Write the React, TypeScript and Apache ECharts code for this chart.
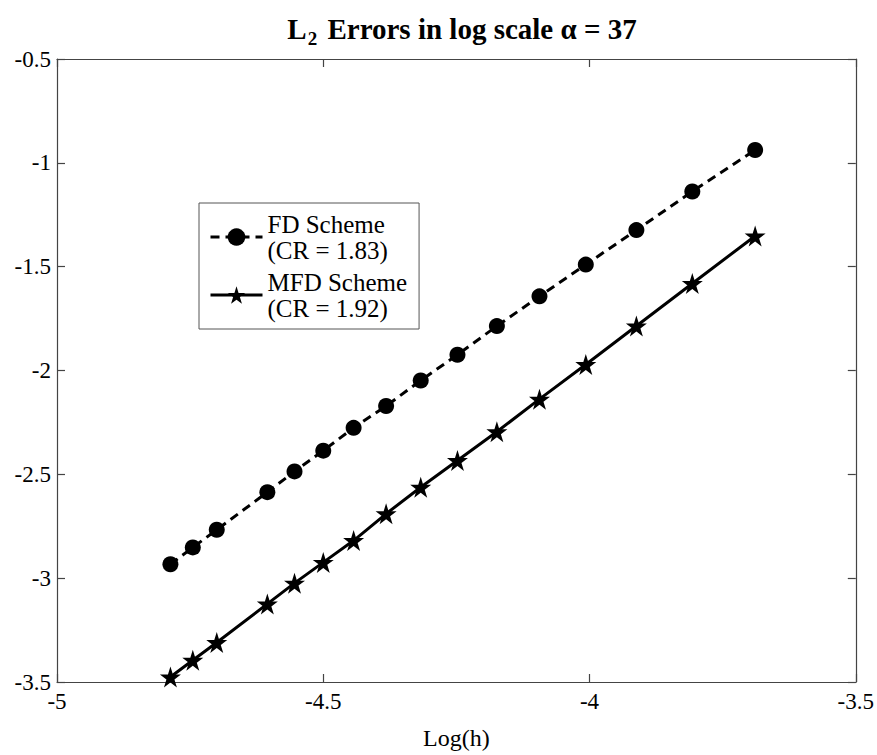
import React, { useEffect, useRef } from "react";
import * as echarts from "echarts";

// Log(h) values (x)
const logH = [-4.787, -4.745, -4.7, -4.605, -4.554, -4.5, -4.443, -4.382, -4.317, -4.248, -4.174, -4.094, -4.007, -3.912, -3.807, -3.689];
// FD Scheme L2 errors (log)
const fdErrors = [-2.933, -2.852, -2.767, -2.586, -2.486, -2.386, -2.276, -2.171, -2.048, -1.924, -1.786, -1.643, -1.49, -1.324, -1.138, -0.938];
// MFD Scheme L2 errors (log)
const mfdErrors = [-3.476, -3.395, -3.31, -3.124, -3.024, -2.924, -2.819, -2.69, -2.562, -2.433, -2.295, -2.138, -1.971, -1.786, -1.581, -1.352];

const seriesNames = ["FD Scheme\n(CR = 1.83)", "MFD Scheme\n(CR = 1.92)"];
const xRange = [-5, -3.5];
const yRange = [-3.5, -0.5];
const tickStep = 0.5;

const FONT = '"Liberation Serif", "Times New Roman", serif';
const STAR = "path://M50,0 L61.2,34.5 L97.6,34.5 L68.2,55.9 L79.4,90.5 L50,69.1 L20.6,90.5 L31.8,55.9 L2.4,34.5 L38.8,34.5 Z";

export default function App() {
  const ref = useRef<HTMLDivElement>(null);
  useEffect(() => {
    if (!ref.current) return;
    const chart = echarts.init(ref.current, null, { renderer: "svg" });
    const axisLine = { show: true, lineStyle: { color: "#444", width: 1.2 } };
    const axisTick = { show: true, inside: true, length: 8, lineStyle: { color: "#444", width: 1.2 } };
    const label = { color: "#000", fontFamily: FONT, fontSize: 23 };
    chart.setOption({
      animation: false,
      backgroundColor: "#fff",
      title: {
        text: "{a|L}{s|2}{a| Errors in log scale α = 37}",
        left: 457,
        top: 6,
        textAlign: "center",
        textStyle: {
          rich: {
            a: { fontFamily: FONT, fontWeight: "bold", fontSize: 29, color: "#000", lineHeight: 36 },
            s: { fontFamily: FONT, fontWeight: "bold", fontSize: 19, color: "#000", lineHeight: 36, padding: [18, 3, 0, 1] },
          },
        },
      },
      grid: { left: 57, right: 20, top: 59, bottom: 66, containLabel: false },
      legend: {
        orient: "vertical",
        left: 199,
        top: 203,
        width: 218,
        padding: [8, 12, 8, 10],
        itemGap: 6,
        itemWidth: 52,
        itemHeight: 22,
        borderColor: "#555",
        borderWidth: 1,
        backgroundColor: "#fff",
        lineStyle: { width: 3 },
        textStyle: { fontFamily: FONT, fontSize: 25, color: "#000", lineHeight: 26 },
        data: seriesNames,
      },
      xAxis: [
        {
          type: "value",
          min: xRange[0],
          max: xRange[1],
          interval: tickStep,
          name: "Log(h)",
          nameLocation: "middle",
          nameGap: 44,
          nameTextStyle: { color: "#000", fontFamily: FONT, fontSize: 24 },
          axisLine,
          axisTick,
          axisLabel: { ...label, margin: 8 },
          splitLine: { show: false },
        },
        {
          type: "value",
          position: "top",
          min: xRange[0],
          max: xRange[1],
          interval: tickStep,
          axisLine,
          axisTick,
          axisLabel: { show: false },
          splitLine: { show: false },
        },
      ],
      yAxis: [
        {
          type: "value",
          min: yRange[0],
          max: yRange[1],
          interval: tickStep,
          axisLine,
          axisTick,
          axisLabel: { ...label, margin: 6 },
          splitLine: { show: false },
        },
        {
          type: "value",
          position: "right",
          min: yRange[0],
          max: yRange[1],
          interval: tickStep,
          axisLine,
          axisTick,
          axisLabel: { show: false },
          splitLine: { show: false },
        },
      ],
      series: [
        {
          name: seriesNames[0],
          type: "line",
          data: logH.map((x, i) => [x, fdErrors[i]]),
          symbol: "circle",
          symbolSize: 16,
          itemStyle: { color: "#000" },
          lineStyle: { color: "#000", width: 3, type: [9, 6] },
        },
        {
          name: seriesNames[1],
          type: "line",
          data: logH.map((x, i) => [x, mfdErrors[i]]),
          symbol: STAR,
          symbolSize: 21,
          itemStyle: { color: "#000" },
          lineStyle: { color: "#000", width: 3 },
        },
      ],
    });
    return () => chart.dispose();
  }, []);
  return <div ref={ref} style={{ position: "fixed", left: 0, top: 0, width: 877, height: 755, background: "#fff" }} />;
}
